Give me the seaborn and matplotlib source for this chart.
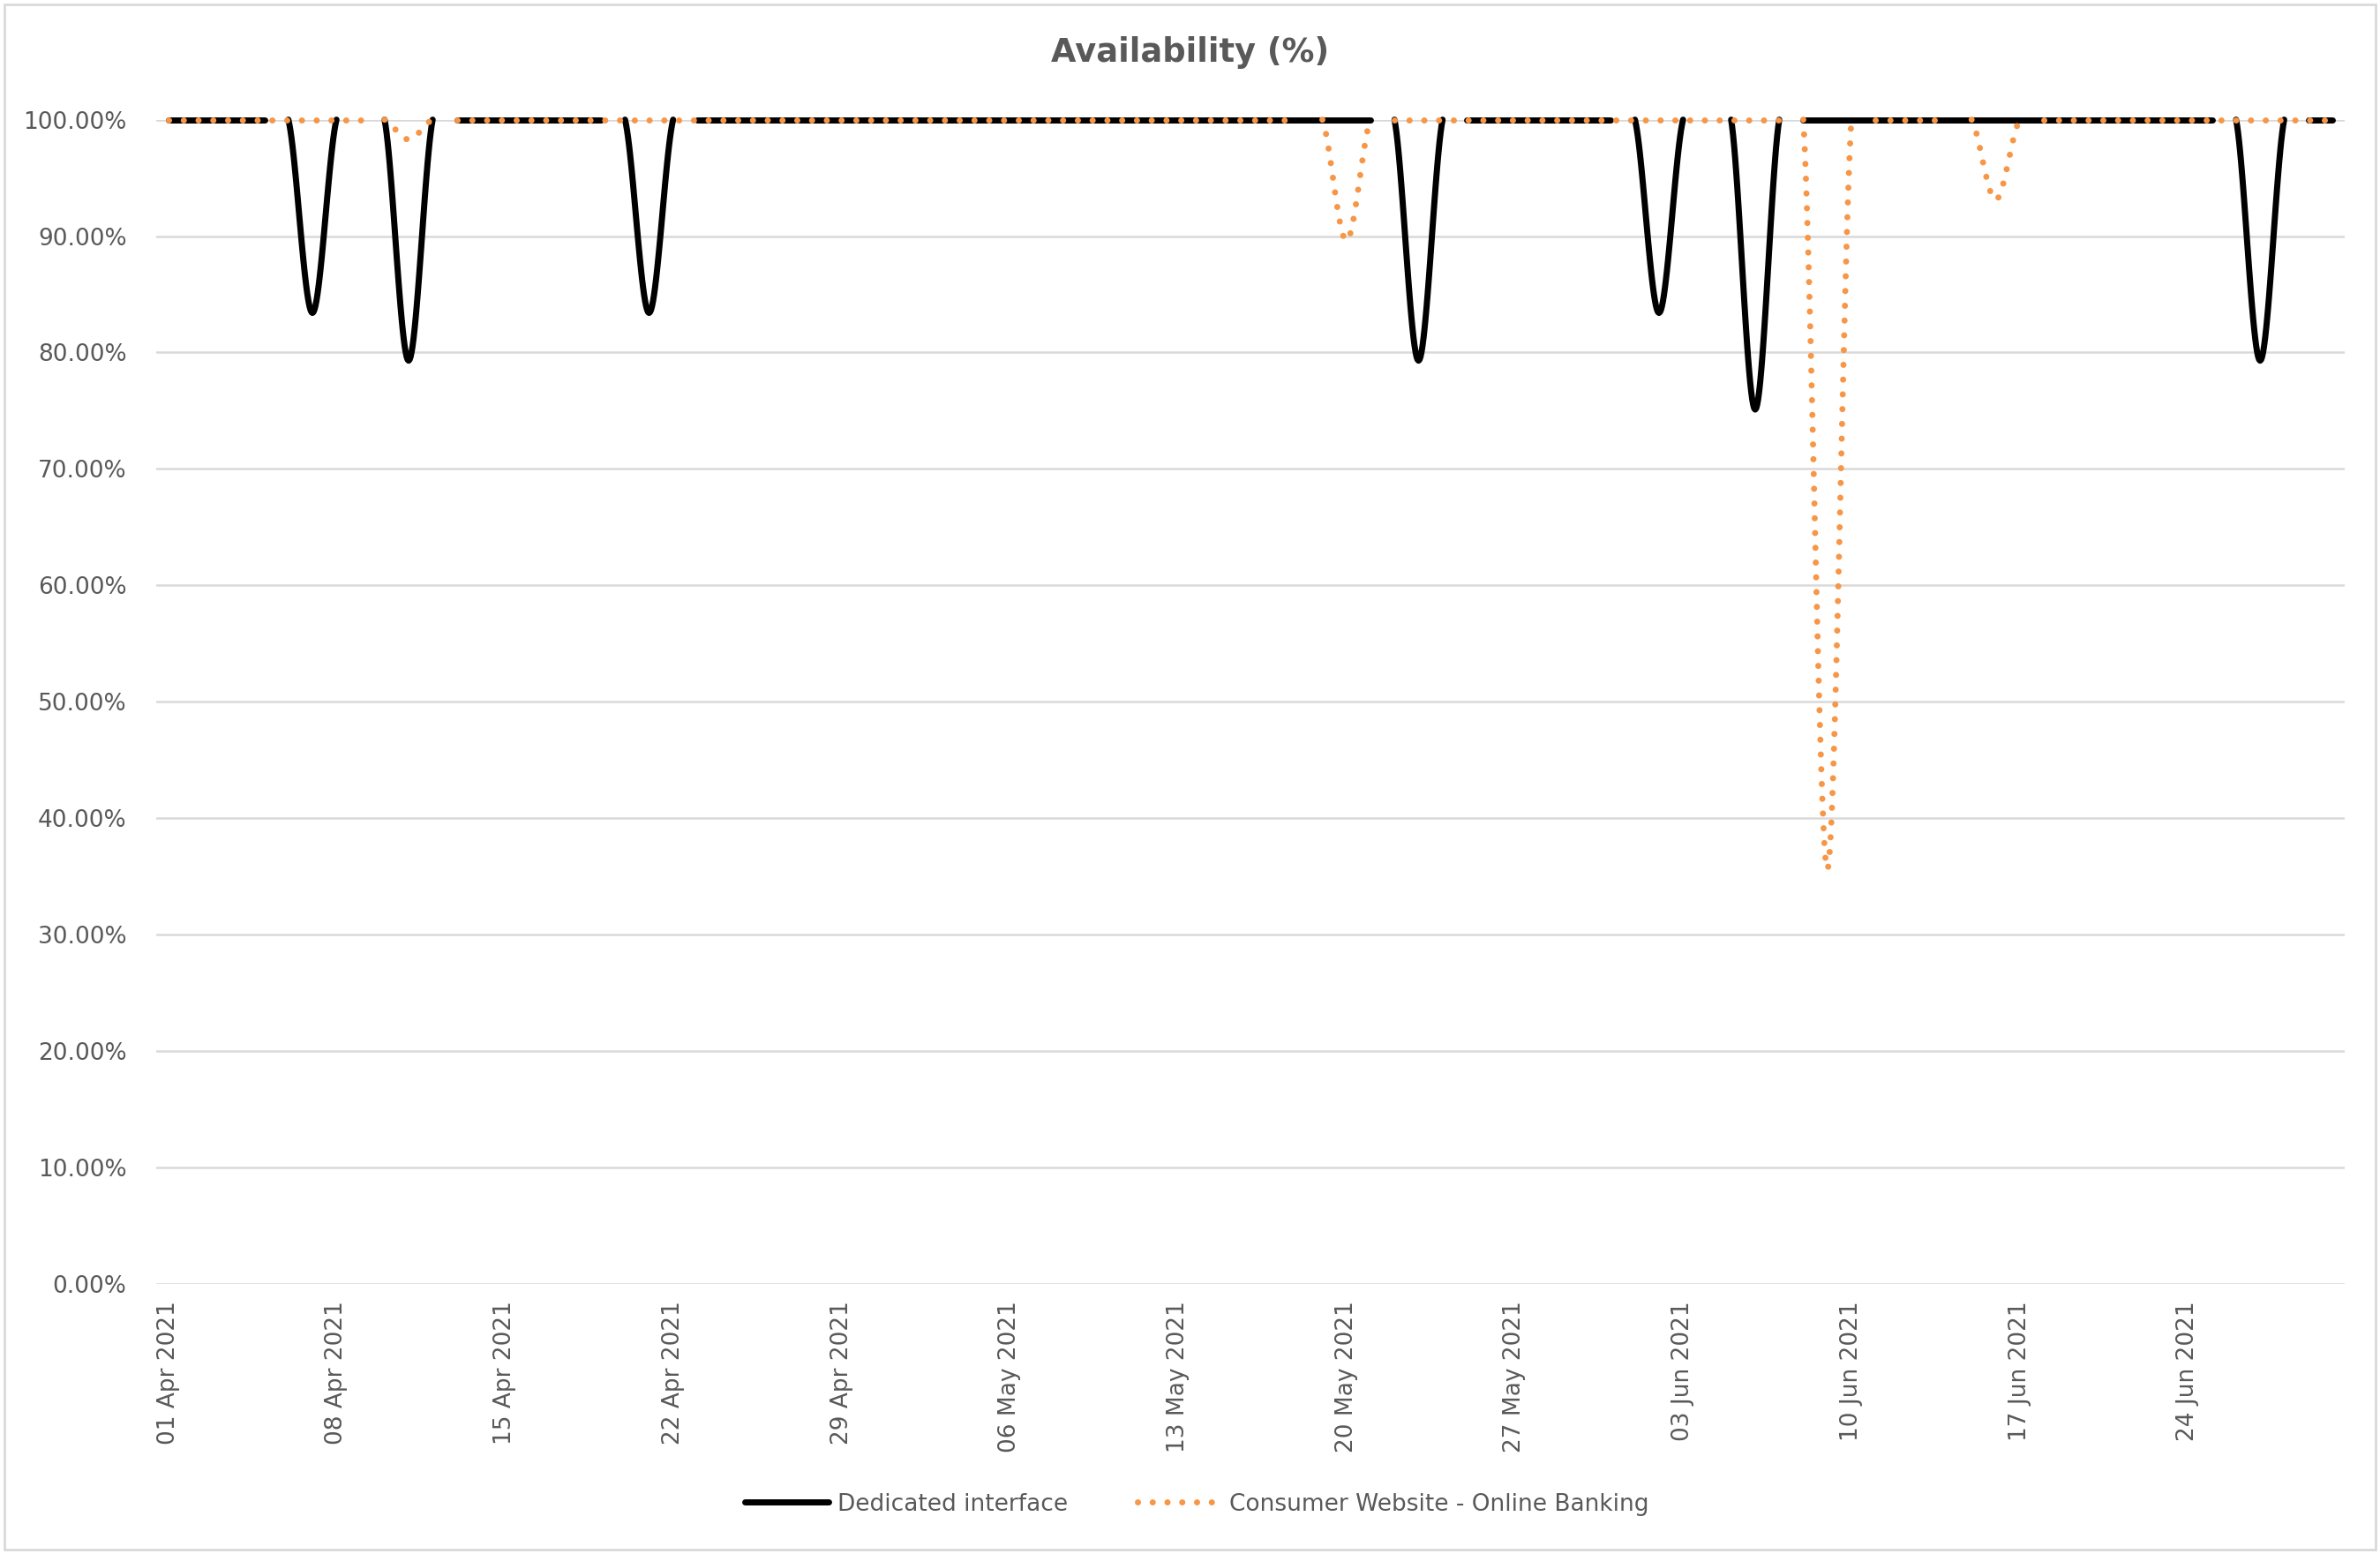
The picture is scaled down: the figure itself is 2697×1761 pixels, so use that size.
import numpy as np
import pandas as pd
import seaborn as sns
import matplotlib.pyplot as plt
import matplotlib.dates as mdates
from matplotlib.lines import Line2D
from matplotlib.patches import Rectangle

# daily availability, 01 Apr 2021 - 30 Jun 2021 (one row per week, starting Thursday)
dates = pd.date_range("2021-04-01", "2021-06-30", freq="D")
dedicated = [
    100, 100, 100, 100, 100, 100, 83.4,
    100, 100, 100, 79.3, 100, 100, 100,
    100, 100, 100, 100, 100, 100, 83.4,
    100, 100, 100, 100, 100, 100, 100,
    100, 100, 100, 100, 100, 100, 100,
    100, 100, 100, 100, 100, 100, 100,
    100, 100, 100, 100, 100, 100, 100,
    100, 100, 100, 79.3, 100, 100, 100,
    100, 100, 100, 100, 100, 100, 83.4,
    100, 100, 100, 75.1, 100, 100, 100,
    100, 100, 100, 100, 100, 100, 100,
    100, 100, 100, 100, 100, 100, 100,
    100, 100, 100, 79.3, 100, 100, 100,
]
consumer = [
    100, 100, 100, 100, 100, 100, 100,
    100, 100, 100, 98.3, 100, 100, 100,
    100, 100, 100, 100, 100, 100, 100,
    100, 100, 100, 100, 100, 100, 100,
    100, 100, 100, 100, 100, 100, 100,
    100, 100, 100, 100, 100, 100, 100,
    100, 100, 100, 100, 100, 100, 100,
    89.6, 100, 100, 100, 100, 100, 100,
    100, 100, 100, 100, 100, 100, 100,
    100, 100, 100, 100, 100, 100, 35.6,
    100, 100, 100, 100, 100, 100, 93.1,
    100, 100, 100, 100, 100, 100, 100,
    100, 100, 100, 100, 100, 100, 100,
]
series_names = ["Dedicated interface", "Consumer Website - Online Banking"]
tick_dates = pd.date_range("2021-04-01", "2021-06-24", freq="7D")
y_ticks = np.arange(0, 101, 10)

grey_text = "#595959"
orange = "#F79646"


def smooth_line(x, y, n=24, ymax=100):
    # Excel-like smoothed line (Catmull-Rom bezier), cut where it overshoots the axis max
    x = np.asarray(x, float)
    y = np.asarray(y, float)
    xp = np.concatenate([[x[0]], x, [x[-1]]])
    yp = np.concatenate([[y[0]], y, [y[-1]]])
    t = np.linspace(0, 1, n, endpoint=False)[:, None]
    out = []
    for i in range(len(x) - 1):
        p0 = np.array([xp[i], yp[i]])
        p1 = np.array([xp[i + 1], yp[i + 1]])
        p2 = np.array([xp[i + 2], yp[i + 2]])
        p3 = np.array([xp[i + 3], yp[i + 3]])
        c1 = p1 + (p2 - p0) / 6
        c2 = p2 - (p3 - p1) / 6
        b = ((1 - t) ** 3) * p1 + 3 * ((1 - t) ** 2) * t * c1 + 3 * (1 - t) * t ** 2 * c2 + t ** 3 * p2
        out.append(b)
    out.append(np.array([[x[-1], y[-1]]]))
    pts = np.vstack(out)
    keep = pts[:, 1] <= ymax + 1e-6
    seg = np.cumsum(~keep)
    df = pd.DataFrame({"x": pts[:, 0], "y": pts[:, 1], "seg": seg})
    return df[keep]


xnum = mdates.date2num(dates)

sns.set_style("white")
plt.rcParams["font.family"] = ["DejaVu Sans"]

fig = plt.figure(figsize=(26.97, 17.61), dpi=100)
ax = fig.add_axes([0.0656, 0.1738, 0.985 - 0.0656, 0.923 - 0.1738])

sns.lineplot(data=smooth_line(xnum, dedicated), x="x", y="y", units="seg",
             estimator=None, sort=False, color="black", lw=5,
             solid_capstyle="round", clip_on=False, zorder=3, ax=ax)
sns.lineplot(data=smooth_line(xnum, consumer), x="x", y="y", units="seg",
             estimator=None, sort=False, color=orange, lw=5,
             linestyle=(0, (0.01, 2.4)), dash_capstyle="round",
             clip_on=False, zorder=4, ax=ax)

ax.set_xlim(xnum[0] - 0.5, xnum[-1] + 0.5)
ax.set_ylim(0, 100)
ax.set_yticks(y_ticks)
ax.set_yticklabels([f"{v:.2f}%" for v in y_ticks], fontsize=19, color=grey_text)
ax.set_xticks(mdates.date2num(tick_dates))
ax.set_xticklabels([d.strftime("%d %b %Y") for d in tick_dates], rotation=90,
                   fontsize=19, color=grey_text, va="top", ha="center")
ax.tick_params(axis="y", length=0, pad=24)
ax.tick_params(axis="x", length=0, pad=14)
ax.set_xlabel("")
ax.set_ylabel("")
ax.grid(axis="y", color="#d9d9d9", lw=1.8)
ax.grid(axis="x", visible=False)
for s in ax.spines.values():
    s.set_visible(False)

fig.text(0.5, 0.966, "Availability (%)", ha="center", va="center",
         fontsize=26.5, fontweight="bold", color=grey_text)

handles = [
    Line2D([], [], color="black", lw=5, solid_capstyle="round"),
    Line2D([], [], color=orange, lw=5, linestyle=(0, (0.01, 2.4)), dash_capstyle="round"),
]
fig.legend(handles, series_names, loc="center", bbox_to_anchor=(0.503, 0.032),
           ncol=2, frameon=False, fontsize=19, handlelength=3.6,
           handletextpad=0.35, columnspacing=3.0, labelcolor=grey_text)

fig.patches.append(Rectangle((0.002, 0.003), 0.996, 0.994, transform=fig.transFigure,
                             fill=False, edgecolor="#d9d9d9", lw=2))

fig.savefig("out.png", dpi=100)
